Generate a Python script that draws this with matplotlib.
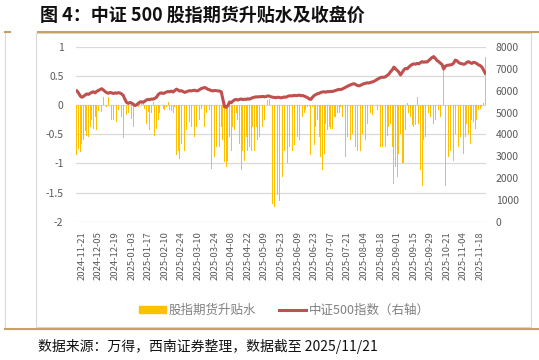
import numpy as np
import matplotlib
matplotlib.use("Agg")
import matplotlib.pyplot as plt
from matplotlib.patches import Patch, Rectangle
from matplotlib.lines import Line2D

plt.rcParams['font.family'] = ['Noto Sans CJK SC', 'DejaVu Sans']

# 股指期货升贴水 (%), one value per trading day (2024-11-18 .. 2025-11-21)
spread = [
    -0.86, -0.75, -0.8, -0.66, -0.6, -0.45, -0.52, -0.55, -0.38, -0.26,
    -0.4, -0.2, -0.43, -0.1, -0.17, -0.12, 0.14, -0.09, -0.03,
    0.14, 0.09, -0.26, -0.26, -0.14, -0.29, -0.09, -0.2, -0.2, -0.57,
    -0.09, -0.17, -0.14, -0.29, -0.23, -0.37, -0.03, 0.03, -0.03, 0.06,
    0.03, 0.03, -0.06, -0.32, -0.11, -0.43, -0.14, 0.06, -0.52, -0.4,
    -0.26, -0.14, 0.0, -0.06, -0.09, -0.03, 0.06, -0.09, -0.1,
    -0.14, -0.03, -0.86, -0.78, -0.92, -0.66, -0.37, -0.78, -0.43, -0.55,
    -0.29, -0.37, -0.89, -0.55, -0.37, -0.43, -0.26, -0.06, -0.23, -0.37,
    -0.14, 0.03, -0.09, -1.09, -0.89, -0.89, -0.72, -0.6, -0.72,
    -0.37, -0.6, -0.98, -1.06, -0.95, -0.55, -0.78, -0.37, -0.43, -0.14,
    -0.26, -0.66, -1.12, -0.78, -0.95, -0.55, -0.78, -0.72, -0.78, -0.37,
    -0.78, -0.37, -0.6, -0.55, -0.43, -0.37, -0.26, -0.11, 0.09, 0.11,
    0.09, -1.7, -1.75, -1.49, -1.55, -1.64, -1.35, -1.24, -0.78,
    -0.89, -1.0, -0.72, -0.83, -0.78, -0.69, -0.72, -0.55, -0.6, -0.69,
    -0.2, -0.14, -0.09, -0.03, -0.02, -0.86, -0.03, -0.69, -0.37, -0.26,
    -0.55, -0.89, -1.12, -0.83, -0.32, -0.43, -0.37, -0.4, -0.4, -0.2,
    -0.2, -0.14, -0.14, -0.03, -0.2, -0.26, -0.89, -0.55, -0.37,
    -0.6, -0.49, -0.66, -0.72, -0.78, -0.6, -0.78, -0.49, -0.6, -0.6,
    -0.32, -0.26, -0.14, -0.17, -0.03, 0.01, -0.09, -0.89, -0.72, -0.72,
    -0.6, -0.72, -0.52, -0.37, -0.32, -0.72, -1.35, -1.06, -1.24,
    -0.83, -0.49, -1.0, -1.0, -0.43, 0.03, -0.14, -0.2, -0.34, -0.37,
    -0.34, 0.14, -0.32, -1.12, -1.38, -0.6, -0.55, -0.43, -0.14, -0.2,
    -0.37, -0.32, -0.26, -0.2, -0.09, -0.2, -0.03, 0.66, -1.38, -1.06,
    -0.89, -0.78, -0.72, -0.95, -0.49, -0.55, -0.72, -0.55, -0.6,
    -0.83, -0.55, -0.32, -0.49, -0.66, -0.26, -0.29, -0.4, -0.26, -0.09,
    -0.06, -0.03, 0.03, 0.83,
]

# 中证500指数 close
csi500 = [
    5990, 5900, 5760, 5700, 5740, 5800, 5850, 5830, 5880, 5920,
    5950, 5900, 5970, 6010, 6050, 6090, 6030, 5960, 5910,
    5880, 5920, 5900, 5870, 5900, 5880, 5910, 5890, 5850, 5780,
    5600, 5460, 5420, 5460, 5430, 5380, 5320, 5350, 5420, 5480,
    5490, 5470, 5520, 5580, 5600, 5590, 5620, 5610, 5650, 5700,
    5820, 5880, 5900, 5870, 5900, 5940, 5960, 5950, 5980,
    5940, 6000, 6070, 6030, 5980, 6000, 5960, 5920, 5950, 5980,
    6000, 5990, 6010, 6020, 5990, 6000, 6050, 6100, 6120, 6150,
    6110, 6060, 6040, 6000, 5990, 6010, 6000, 5990, 5980,
    5950, 5600, 5260, 5240, 5320, 5480, 5450, 5520, 5580, 5600,
    5570, 5600, 5620, 5590, 5610, 5600, 5630, 5610, 5650, 5680,
    5700, 5720, 5710, 5730, 5720, 5740, 5720, 5730, 5760, 5750,
    5720, 5700, 5690, 5680, 5700, 5690, 5670, 5690, 5710,
    5700, 5740, 5760, 5770, 5760, 5790, 5770, 5780, 5800, 5770,
    5780, 5750, 5720, 5680, 5620, 5600, 5700, 5780, 5820, 5860,
    5880, 5920, 5940, 5950, 5930, 5960, 5950, 5970, 5960, 5990,
    6010, 6040, 6060, 6050, 6080, 6120, 6160, 6200, 6240,
    6270, 6300, 6320, 6280, 6240, 6220, 6250, 6290, 6320, 6340,
    6360, 6350, 6380, 6400, 6430, 6470, 6520, 6560, 6600, 6620,
    6610, 6640, 6700, 6760, 6870, 6950, 7080, 7000, 6930,
    6850, 6720, 6830, 6950, 7020, 7000, 7080, 7150, 7200, 7230,
    7210, 7250, 7230, 7280, 7330, 7300, 7320, 7310, 7380, 7450,
    7520, 7560, 7480, 7380, 7330, 7260, 7200, 6990, 7120, 7160,
    7170, 7180, 7200, 7260, 7400, 7370, 7290, 7250, 7230,
    7210, 7230, 7300, 7330, 7280, 7250, 7300, 7280, 7240, 7180,
    7150, 7080, 6950, 6800,
]

tick_labels = [
    "2024-11-21", "2024-12-05", "2024-12-19", "2025-01-03", "2025-01-17",
    "2025-02-10", "2025-02-24", "2025-03-10", "2025-03-24", "2025-04-08",
    "2025-04-22", "2025-05-09", "2025-05-23", "2025-06-09", "2025-06-23",
    "2025-07-07", "2025-07-21", "2025-08-04", "2025-08-18", "2025-09-01",
    "2025-09-15", "2025-09-29", "2025-10-21", "2025-11-04", "2025-11-18",
]
tick_pos = [3 + 10 * k for k in range(len(tick_labels))]

GOLD = "#C8A064"
BAR = "#FFC000"
RED = "#C0504D"
GRAY = "#595959"

x = np.arange(len(spread))

fig = plt.figure(figsize=(5.39, 3.6), dpi=100)
ax = fig.add_axes([76 / 539, 1 - 221.7 / 360, 410 / 539, 174.7 / 360])
ax2 = ax.twinx()

ax.bar(x, spread, width=0.5, color=BAR, linewidth=0)
ax2.plot(x, csi500, color=RED, lw=2.2, solid_joinstyle="round")

ax.set_xlim(-0.5, len(spread) - 0.5)
ax.set_ylim(-2, 1)
yt = np.arange(-2, 1.01, 0.5)
ax.set_yticks(yt)
ax.set_yticklabels([f"{v:g}" for v in yt])
ax2.set_ylim(0, 8000)
ax2.set_yticks(np.arange(0, 8001, 1000))

ax.set_xticks(tick_pos)
ax.set_xticklabels(tick_labels, rotation=90)
ax.grid(axis="y", color="#D9D9D9", lw=0.9)
ax.set_axisbelow(True)

for a in (ax, ax2):
    for s in a.spines.values():
        s.set_visible(False)
ax.tick_params(axis="y", length=0, pad=9, labelsize=7.5, labelcolor=GRAY)
ax.tick_params(axis="x", length=0, pad=7, labelsize=6.8, labelcolor=GRAY)
ax2.tick_params(axis="y", length=0, pad=7, labelsize=7.5, labelcolor=GRAY)

# legend
handles = [Patch(color=BAR), Line2D([], [], color=RED, lw=2.2)]
fig.legend(handles, ["股指期货升贴水", "中证500指数（右轴）"], loc="center",
           bbox_to_anchor=(0.527, 1 - 310 / 360), ncol=2, frameon=False,
           fontsize=9, labelcolor="#808080", handlelength=2.2, handleheight=0.5,
           columnspacing=1.8, handletextpad=0.2)

# frame and gold rules
fig.add_artist(Rectangle((36 / 539, 1 - 327 / 360), 495 / 539, 294 / 360,
                         transform=fig.transFigure, fill=False,
                         edgecolor="#D9D9D9", lw=0.8))
fig.add_artist(Line2D([5 / 539, 5 / 539], [1 - 327 / 360, 1 - 33 / 360],
                      transform=fig.transFigure, color="#D9D9D9", lw=0.8))
fig.add_artist(Line2D([5 / 539, 10 / 539], [1 - 32 / 360] * 2,
                      transform=fig.transFigure, color=GOLD, lw=1.5))
fig.add_artist(Line2D([38 / 539, 1.0], [1 - 32 / 360] * 2,
                      transform=fig.transFigure, color=GOLD, lw=1.5))
fig.add_artist(Line2D([5 / 539, 1.0], [1 - 329 / 360] * 2,
                      transform=fig.transFigure, color=GOLD, lw=1.5))

fig.text(40 / 539, 1 - 15 / 360, "图 4：中证 500 股指期货升贴水及收盘价",
         fontsize=13, fontweight="bold", va="center", ha="left", color="#111111")
fig.text(38 / 539, 1 - 346 / 360, "数据来源：万得，西南证券整理，数据截至 2025/11/21",
         fontsize=10, style="italic", va="center", ha="left", color="#111111")

fig.savefig("out.png", dpi=100)
